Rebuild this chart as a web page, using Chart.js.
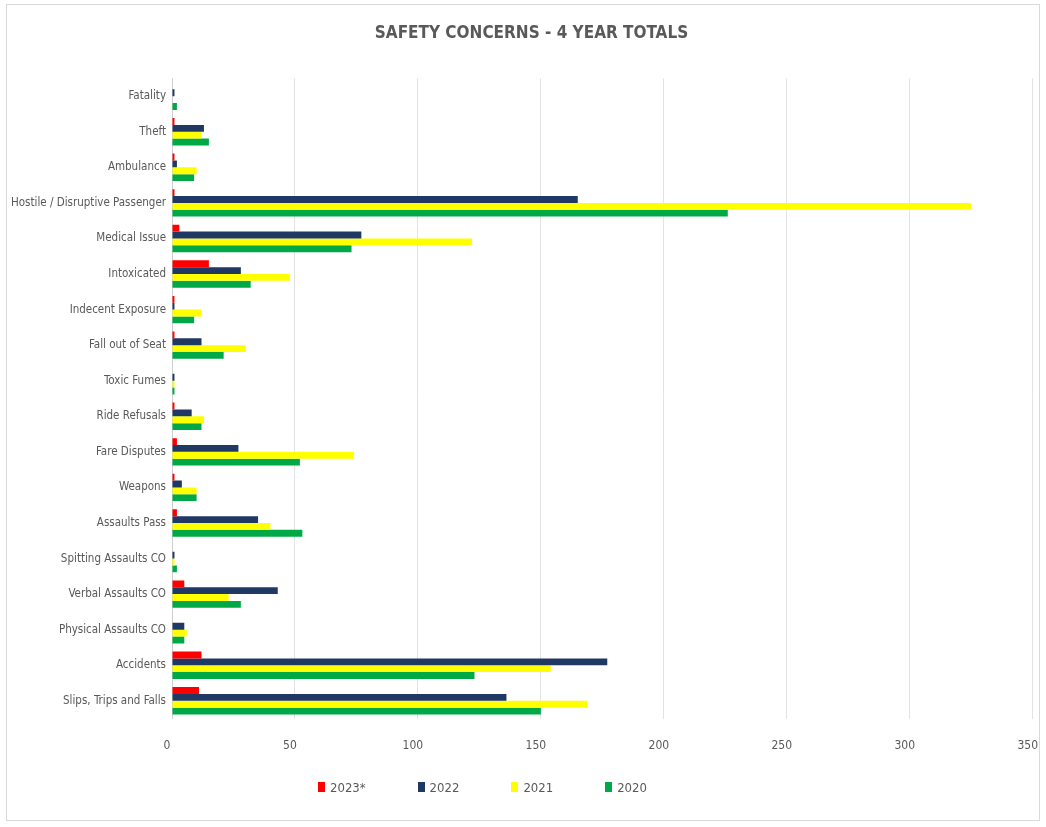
<!DOCTYPE html>
<html>
<head>
<meta charset="utf-8">
<script src="https://cdn.jsdelivr.net/npm/chart.js@4/dist/chart.umd.min.js"></script>
<style>
  html, body { margin: 0; padding: 0; background: #ffffff; overflow: hidden; }
  #frame {
    position: absolute; left: 6px; top: 4px; width: 1034px; height: 817px;
    border: 1px solid #d9d9d9; box-sizing: border-box; background: #fff;
  }
  #wrap { position: absolute; left: -6px; top: 0; width: 1062px; height: 815px; }
  #legend {
    position: absolute; left: 318px; top: 779px; height: 16px;
    display: flex; align-items: center; gap: 52px;
    font-family: 'Liberation Sans Narrow', 'DejaVu Sans Condensed', Arial, sans-serif;
    font-size: 13px; color: #595959;
  }
  #legend .item { display: flex; align-items: center; }
  #legend .box { width: 7px; height: 10px; margin-right: 5px; display: inline-block; }
</style>
</head>
<body>
<div id="frame"><div id="wrap"><canvas id="c"></canvas></div></div>
<div id="legend"></div>
<script>
// Incident categories, top to bottom
const categories = [
  "Fatality", "Theft", "Ambulance", "Hostile / Disruptive Passenger",
  "Medical Issue", "Intoxicated", "Indecent Exposure", "Fall out of Seat",
  "Toxic Fumes", "Ride Refusals", "Fare Disputes", "Weapons",
  "Assaults Pass", "Spitting Assaults CO", "Verbal Assaults CO",
  "Physical Assaults CO", "Accidents", "Slips, Trips and Falls"
];

// Yearly totals per category
const totals2023 = [0, 1, 1, 1, 3, 15, 1, 1, 0, 1, 2, 1, 2, 0, 5, 0, 12, 11];
const totals2022 = [1, 13, 2, 165, 77, 28, 1, 12, 1, 8, 27, 4, 35, 1, 43, 5, 177, 136];
const totals2021 = [0, 12, 10, 325, 122, 48, 12, 30, 1, 13, 74, 10, 40, 1, 23, 6, 154, 169];
const totals2020 = [2, 15, 9, 226, 73, 32, 9, 21, 1, 12, 52, 10, 53, 2, 28, 5, 123, 150];

const seriesLabels = ["2023*", "2022", "2021", "2020"];
const seriesColors = ["#ff0000", "#1f3864", "#ffff00", "#00a846"];

const xTicks = [0, 50, 100, 150, 200, 250, 300, 350];

const FONT = "'Liberation Sans Narrow', 'DejaVu Sans Condensed', Arial, sans-serif";
const TEXT = "#595959";

const seriesData = [totals2023, totals2022, totals2021, totals2020];

// Series key below the chart
const legendEl = document.getElementById("legend");
seriesLabels.forEach((name, i) => {
  const item = document.createElement("span");
  item.className = "item";
  const box = document.createElement("span");
  box.className = "box";
  box.style.background = seriesColors[i];
  item.appendChild(box);
  item.appendChild(document.createTextNode(name));
  legendEl.appendChild(item);
});

new Chart(document.getElementById("c"), {
  type: "bar",
  data: {
    labels: categories,
    datasets: seriesData.map((vals, i) => ({
      label: seriesLabels[i],
      data: vals,
      backgroundColor: seriesColors[i],
      borderWidth: 0,
      categoryPercentage: 0.77,
      barPercentage: 1.0
    }))
  },
  options: {
    indexAxis: "y",
    responsive: true,
    maintainAspectRatio: false,
    animation: false,
    layout: { padding: { left: 4, right: 5, top: 6, bottom: 47 } },
    plugins: {
      title: {
        display: true,
        text: "SAFETY CONCERNS - 4 YEAR TOTALS",
        color: TEXT,
        font: { family: FONT, size: 17, weight: "bold" },
        padding: { top: 12, bottom: 35 }
      },
      legend: { display: false },
      tooltip: { enabled: false }
    },
    scales: {
      x: {
        min: 0,
        max: 350,
        afterBuildTicks: (axis) => { axis.ticks = xTicks.map(v => ({ value: v })); },
        ticks: { color: TEXT, font: { family: FONT, size: 12 }, padding: 20, labelOffset: -5 },
        grid: { color: "#e3e3e3", drawTicks: false },
        border: { display: false }
      },
      y: {
        ticks: { color: TEXT, font: { family: FONT, size: 11.5 }, padding: 6 },
        grid: { display: false, drawTicks: false },
        border: { display: true, color: "#cfcfcf" }
      }
    }
  }
});
</script>
</body>
</html>
